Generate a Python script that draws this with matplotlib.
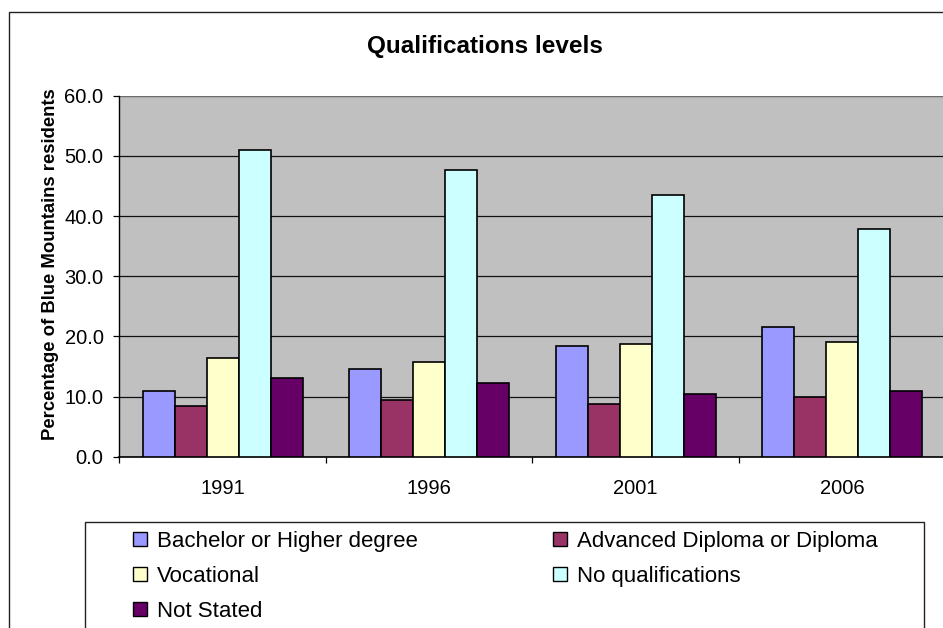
import numpy as np
import matplotlib
matplotlib.use("Agg")
import matplotlib.pyplot as plt
from matplotlib.patches import Rectangle, Patch

plt.rcParams['font.family'] = ['Liberation Sans', 'DejaVu Sans']

# data
years = ["1991", "1996", "2001", "2006"]
series = ["Bachelor or Higher degree", "Advanced Diploma or Diploma", "Vocational",
          "No qualifications", "Not Stated"]
bachelor = [11.0, 14.5, 18.4, 21.5]
diploma = [8.4, 9.4, 8.7, 10.0]
vocational = [16.4, 15.8, 18.7, 19.1]
no_qual = [51.0, 47.6, 43.5, 37.9]
not_stated = [13.0, 12.3, 10.5, 11.0]
colores = ["#9999FF", "#993366", "#FFFFCC", "#CCFFFF", "#660066"]

W, H = 943, 628
fig = plt.figure(figsize=(W / 100, H / 100), dpi=100)

# marco exterior del grafico (cortado a la derecha y abajo)
fig.patches.append(Rectangle((8.5 / W, -0.2), 1.2, (H - 11.7) / H + 0.2,
                             transform=fig.transFigure, facecolor="none",
                             edgecolor="#222222", linewidth=1.0))

ax = fig.add_axes([119.3 / W, (H - 456.7) / H, 826 / W, 361 / H])
ax.set_facecolor("#C0C0C0")

x = np.arange(len(years))
ancho = 0.155
valores = [bachelor, diploma, vocational, no_qual, not_stated]
for i, (vals, col) in enumerate(zip(valores, colores)):
    ax.bar(x + (i - 2) * ancho, vals, ancho, color=col, edgecolor="black",
           linewidth=1.2, zorder=3)

ax.set_xlim(-0.5, 3.5)
ax.set_ylim(0, 60)
ax.set_yticks(np.arange(0, 61, 10))
ax.set_yticklabels([f"{v:.1f}" for v in np.arange(0, 61, 10)])
ax.yaxis.grid(True, color="#111111", linewidth=0.9, zorder=1)
ax.set_axisbelow(True)

# ticks del eje x en los limites de categoria, etiquetas en el centro
ax.set_xticks(np.arange(-0.5, 3.6, 1.0))
ax.set_xticklabels([])
ax.set_xticks(x, minor=True)
ax.set_xticklabels(years, minor=True)
ax.tick_params(axis="x", which="major", length=4.3, width=0.9, direction="out")
ax.tick_params(axis="x", which="minor", length=0, pad=16, labelsize=14.5)
ax.tick_params(axis="y", length=4.3, width=0.9, pad=7, labelsize=14.5)

for s in ["top", "right"]:
    ax.spines[s].set_visible(False)
ax.spines["left"].set_linewidth(1.0)
ax.spines["bottom"].set_linewidth(1.2)
ax.axhline(60, color="#808080", linewidth=1.2, zorder=2)

ax.set_ylabel("Percentage of Blue Mountains residents", fontsize=13.3,
              fontweight="bold")
ax.yaxis.set_label_coords((59 - 119.3) / 826, (456.7 - 264) / 361)

fig.text(485 / W, 1 - 47 / H, "Qualifications levels", fontsize=17.5,
         fontweight="bold", ha="center", va="center")

# leyenda
fig.patches.append(Rectangle((85 / W, -0.2), (924.3 - 85) / W, (H - 521.7) / H + 0.2,
                             transform=fig.transFigure, facecolor="white",
                             edgecolor="#222222", linewidth=1.0))
orden = [0, 2, 4, 1, 3]
handles = [Patch(facecolor=colores[i], edgecolor="black", linewidth=1.0) for i in orden]
labels = [series[i] for i in orden]
fig.legend(handles, labels, ncol=2, loc="upper left",
           bbox_to_anchor=(133 / W, 1 - 531 / H), bbox_transform=fig.transFigure,
           frameon=False, fontsize=16, handlelength=0.63, handleheight=0.63,
           handletextpad=0.45, labelspacing=0.63, columnspacing=6.1,
           borderpad=0, borderaxespad=0)

fig.savefig("out.png", dpi=100)
